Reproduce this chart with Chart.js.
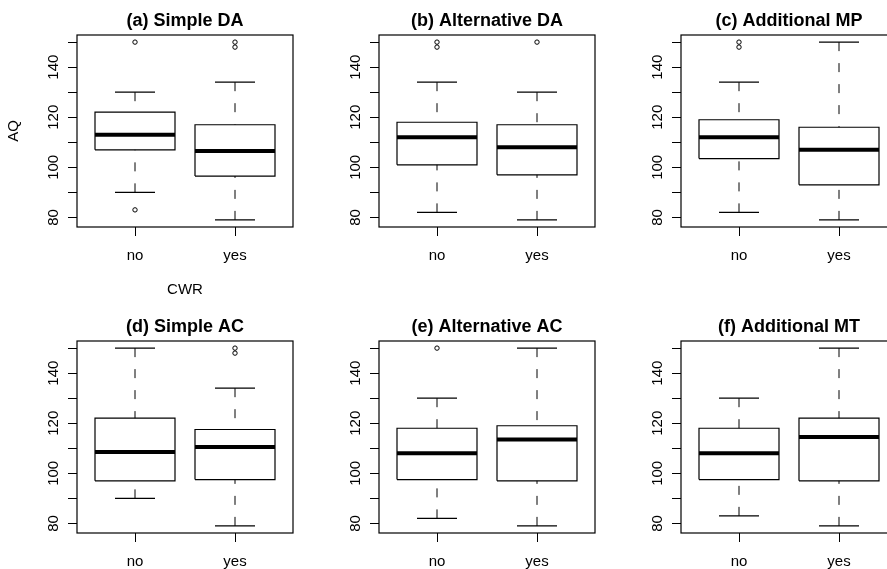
<!DOCTYPE html>
<html>
<head>
<meta charset="utf-8">
<script src="https://cdn.jsdelivr.net/npm/chart.js@4.4.1/dist/chart.umd.min.js"></script>
<style>
  html, body { margin: 0; padding: 0; background: #fff; overflow: hidden; width: 887px; height: 569px; }
  .panel { position: absolute; width: 302px; height: 306px; }
</style>
</head>
<body>
<div class="panel" style="left:0px;top:0px"><canvas id="p0" width="302" height="306"></canvas></div>
<div class="panel" style="left:302px;top:0px"><canvas id="p1" width="302" height="306"></canvas></div>
<div class="panel" style="left:604px;top:0px"><canvas id="p2" width="302" height="306"></canvas></div>
<div class="panel" style="left:0px;top:306px"><canvas id="p3" width="302" height="306"></canvas></div>
<div class="panel" style="left:302px;top:306px"><canvas id="p4" width="302" height="306"></canvas></div>
<div class="panel" style="left:604px;top:306px"><canvas id="p5" width="302" height="306"></canvas></div>
<script>
var panel_titles = ['(a) Simple DA', '(b) Alternative DA', '(c) Additional MP',
                    '(d) Simple AC', '(e) Alternative AC', '(f) Additional MT'];
var groups = ['no', 'yes'];
var y_ticks = [80, 90, 100, 110, 120, 130, 140, 150];
var y_tick_labels = ['80', '', '100', '', '120', '', '140', ''];
var y_range = [76.16, 152.84];
var x_range = [0.42, 2.58];

// [lower whisker, Q1, median, Q3, upper whisker] for "no" and "yes"
var stats_a = [[90, 107, 113, 122, 130], [79, 96.5, 106.5, 117, 134]];
var stats_b = [[82, 101, 112, 118, 134], [79, 97, 108, 117, 130]];
var stats_c = [[82, 103.5, 112, 119, 134], [79, 93, 107, 116, 150]];
var stats_d = [[90, 97, 108.5, 122, 150], [79, 97.5, 110.5, 117.5, 134]];
var stats_e = [[82, 97.5, 108, 118, 130], [79, 97, 113.5, 119, 150]];
var stats_f = [[83, 97.5, 108, 118, 130], [79, 97, 114.5, 122, 150]];

// outliers for "no" and "yes"
var out_a = [[83, 150], [148, 150]];
var out_b = [[148, 150], [150]];
var out_c = [[148, 150], []];
var out_d = [[], [148, 150]];
var out_e = [[150], []];
var out_f = [[], []];

var all_stats = [stats_a, stats_b, stats_c, stats_d, stats_e, stats_f];
var all_out = [out_a, out_b, out_c, out_d, out_e, out_f];

var font_family = '"Liberation Sans", Arial, Helvetica, sans-serif';
Chart.defaults.font.family = font_family;
Chart.defaults.color = '#000';

var box_half = 0.4;
var cap_half = 0.2;
var whisker_dash = [9, 12];

function seg(points, width, dash) {
  return {
    data: points,
    showLine: true,
    borderColor: '#000',
    borderWidth: width,
    borderDash: dash || [],
    borderJoinStyle: 'miter',
    pointRadius: 0,
    pointHoverRadius: 0,
    fill: false,
    tension: 0
  };
}

function box_datasets(stats, outliers) {
  var sets = [];
  stats.forEach(function(s, i) {
    var x = i + 1;
    // whiskers (drawn from the whisker end toward the box)
    sets.push(seg([{x: x, y: s[4]}, {x: x, y: s[3]}], 1, whisker_dash));
    sets.push(seg([{x: x, y: s[0]}, {x: x, y: s[1]}], 1, whisker_dash));
    // staples
    sets.push(seg([{x: x - cap_half, y: s[4]}, {x: x + cap_half, y: s[4]}], 1.2));
    sets.push(seg([{x: x - cap_half, y: s[0]}, {x: x + cap_half, y: s[0]}], 1.2));
    // box
    sets.push(seg([
      {x: x - box_half, y: s[1]}, {x: x + box_half, y: s[1]},
      {x: x + box_half, y: s[3]}, {x: x - box_half, y: s[3]},
      {x: x - box_half, y: s[1]}
    ], 1.2));
    // median
    sets.push(seg([{x: x - box_half, y: s[2]}, {x: x + box_half, y: s[2]}], 4));
    // outliers
    sets.push({
      data: outliers[i].map(function(v) { return {x: x, y: v}; }),
      showLine: false,
      pointStyle: 'circle',
      pointRadius: 2.2,
      pointHoverRadius: 2.2,
      pointBorderWidth: 1,
      pointBorderColor: '#000',
      pointBackgroundColor: 'rgba(0,0,0,0)'
    });
  });
  return sets;
}

var frame_plugin = {
  id: 'frame',
  afterDraw: function(chart) {
    var a = chart.chartArea;
    var ctx = chart.ctx;
    ctx.save();
    ctx.strokeStyle = '#000';
    ctx.lineWidth = 1.2;
    ctx.strokeRect(a.left, a.top, a.right - a.left, a.bottom - a.top);
    ctx.restore();
  }
};

var title_plugin = {
  id: 'panelTitle',
  afterDraw: function(chart, args, opts) {
    var a = chart.chartArea;
    var ctx = chart.ctx;
    ctx.save();
    ctx.font = 'bold 18px ' + font_family;
    ctx.fillStyle = '#000';
    ctx.textAlign = 'center';
    ctx.textBaseline = 'alphabetic';
    ctx.fillText(opts.text, (a.left + a.right) / 2, a.top - 9);
    ctx.restore();
  }
};

function make_panel(idx) {
  var ctx = document.getElementById('p' + idx);
  var first = idx === 0;
  new Chart(ctx, {
    type: 'scatter',
    data: { datasets: box_datasets(all_stats[idx], all_out[idx]) },
    plugins: [frame_plugin, title_plugin],
    options: {
      responsive: false,
      animation: false,
      events: [],
      layout: { padding: { top: 35, right: 9, left: 0, bottom: 0 } },
      plugins: {
        legend: { display: false },
        tooltip: { enabled: false },
        title: { display: false },
        panelTitle: { text: panel_titles[idx] }
      },
      scales: {
        x: {
          type: 'linear',
          min: x_range[0],
          max: x_range[1],
          afterBuildTicks: function(scale) {
            scale.ticks = groups.map(function(g, i) { return {value: i + 1}; });
          },
          afterFit: function(scale) { scale.height = 79; },
          ticks: {
            autoSkip: false,
            maxRotation: 0,
            padding: 11,
            font: { size: 15 },
            callback: function(value) { return groups[Math.round(value) - 1]; }
          },
          grid: { drawOnChartArea: false, drawTicks: true, tickLength: 9, color: '#000', lineWidth: 1 },
          border: { display: false },
          title: {
            display: first,
            text: 'CWR',
            font: { size: 15 },
            padding: { top: 0, bottom: 7 }
          }
        },
        y: {
          type: 'linear',
          min: y_range[0],
          max: y_range[1],
          afterBuildTicks: function(scale) {
            scale.ticks = y_ticks.map(function(v) { return {value: v}; });
          },
          afterFit: function(scale) { scale.width = 77; },
          ticks: {
            autoSkip: false,
            minRotation: 90,
            maxRotation: 90,
            crossAlign: 'center',
            padding: 2,
            font: { size: 15 },
            callback: function(value, index) { return y_tick_labels[index]; }
          },
          grid: { drawOnChartArea: false, drawTicks: true, tickLength: 9, color: '#000', lineWidth: 1 },
          border: { display: false },
          title: {
            display: first,
            text: 'AQ',
            font: { size: 15 },
            padding: { top: 5, bottom: 0 }
          }
        }
      }
    }
  });
}

for (var i = 0; i < 6; i++) {
  make_panel(i);
}
</script>
</body>
</html>
